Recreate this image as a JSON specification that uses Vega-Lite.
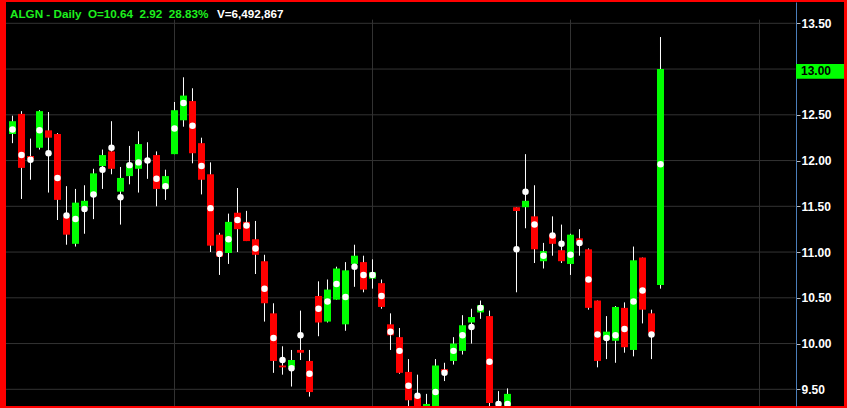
{
  "$schema": "https://vega.github.io/schema/vega-lite/v6.json",
  "width": 838,
  "height": 404,
  "autosize": {"type": "none"},
  "padding": {"left": 6, "top": 2, "right": 3, "bottom": 2},
  "background": "#ff0000",
  "config": {"view": {"fill": "#000000", "stroke": null}, "font": "Liberation Sans"},
  "resolve": {"axis": {"x": "independent", "y": "independent"}},
  "datasets": {
    "ohlc": [
      {"i": 1, "o": 12.29, "h": 12.49, "l": 12.19, "c": 12.43, "m": 12.34},
      {"i": 2, "o": 12.51, "h": 12.54, "l": 11.58, "c": 11.92, "m": 12.06},
      {"i": 3, "o": 12.05, "h": 12.24, "l": 11.79, "c": 12.02, "m": 12.01},
      {"i": 4, "o": 12.14, "h": 12.55, "l": 12.12, "c": 12.54, "m": 12.33},
      {"i": 5, "o": 12.33, "h": 12.53, "l": 11.65, "c": 12.25, "m": 12.08},
      {"i": 6, "o": 12.29, "h": 12.30, "l": 11.35, "c": 11.57, "m": 11.81},
      {"i": 7, "o": 11.38, "h": 11.72, "l": 11.08, "c": 11.19, "m": 11.40},
      {"i": 8, "o": 11.09, "h": 11.69, "l": 11.06, "c": 11.54, "m": 11.36},
      {"i": 9, "o": 11.49, "h": 11.73, "l": 11.20, "c": 11.56, "m": 11.47},
      {"i": 10, "o": 11.61, "h": 11.91, "l": 11.36, "c": 11.86, "m": 11.63},
      {"i": 11, "o": 11.94, "h": 12.12, "l": 11.69, "c": 12.06, "m": 11.90},
      {"i": 12, "o": 12.10, "h": 12.43, "l": 11.85, "c": 11.91, "m": 12.14},
      {"i": 13, "o": 11.66, "h": 11.93, "l": 11.30, "c": 11.81, "m": 11.60},
      {"i": 14, "o": 11.83, "h": 12.16, "l": 11.74, "c": 11.97, "m": 11.95},
      {"i": 15, "o": 11.91, "h": 12.32, "l": 11.65, "c": 12.18, "m": 11.98},
      {"i": 16, "o": 12.00, "h": 12.20, "l": 11.80, "c": 11.99, "m": 12.00},
      {"i": 17, "o": 12.06, "h": 12.10, "l": 11.50, "c": 11.69, "m": 11.80},
      {"i": 18, "o": 11.69, "h": 11.90, "l": 11.57, "c": 11.83, "m": 11.72},
      {"i": 19, "o": 12.07, "h": 12.64, "l": 12.07, "c": 12.55, "m": 12.35},
      {"i": 20, "o": 12.44, "h": 12.91, "l": 12.37, "c": 12.71, "m": 12.63},
      {"i": 21, "o": 12.65, "h": 12.79, "l": 11.97, "c": 12.08, "m": 12.38},
      {"i": 22, "o": 12.19, "h": 12.25, "l": 11.63, "c": 11.79, "m": 11.94},
      {"i": 23, "o": 11.85, "h": 11.98, "l": 11.00, "c": 11.07, "m": 11.48},
      {"i": 24, "o": 11.19, "h": 11.21, "l": 10.75, "c": 10.95, "m": 10.98},
      {"i": 25, "o": 10.99, "h": 11.42, "l": 10.87, "c": 11.33, "m": 11.14},
      {"i": 26, "o": 11.43, "h": 11.70, "l": 11.00, "c": 11.25, "m": 11.35},
      {"i": 27, "o": 11.33, "h": 11.45, "l": 11.12, "c": 11.12, "m": 11.29},
      {"i": 28, "o": 11.14, "h": 11.34, "l": 10.76, "c": 10.97, "m": 11.04},
      {"i": 29, "o": 10.90, "h": 10.97, "l": 10.24, "c": 10.44, "m": 10.60},
      {"i": 30, "o": 10.33, "h": 10.44, "l": 9.68, "c": 9.81, "m": 10.06},
      {"i": 31, "o": 9.76, "h": 9.97, "l": 9.66, "c": 9.74, "m": 9.82},
      {"i": 32, "o": 9.74, "h": 9.93, "l": 9.53, "c": 9.82, "m": 9.73},
      {"i": 33, "o": 9.93, "h": 10.36, "l": 9.82, "c": 9.90, "m": 10.09},
      {"i": 34, "o": 9.81, "h": 9.93, "l": 9.42, "c": 9.47, "m": 9.67},
      {"i": 35, "o": 10.52, "h": 10.68, "l": 10.08, "c": 10.23, "m": 10.38},
      {"i": 36, "o": 10.24, "h": 10.70, "l": 10.23, "c": 10.59, "m": 10.46},
      {"i": 37, "o": 10.48, "h": 10.84, "l": 10.48, "c": 10.82, "m": 10.65},
      {"i": 38, "o": 10.21, "h": 10.89, "l": 10.14, "c": 10.80, "m": 10.51},
      {"i": 39, "o": 10.87, "h": 11.08, "l": 10.62, "c": 10.96, "m": 10.84},
      {"i": 40, "o": 10.89, "h": 10.96, "l": 10.56, "c": 10.59, "m": 10.75},
      {"i": 41, "o": 10.71, "h": 10.92, "l": 10.60, "c": 10.78, "m": 10.75},
      {"i": 42, "o": 10.66, "h": 10.70, "l": 10.38, "c": 10.40, "m": 10.52},
      {"i": 43, "o": 10.21, "h": 10.33, "l": 9.93, "c": 10.09, "m": 10.13},
      {"i": 44, "o": 10.07, "h": 10.17, "l": 9.67, "c": 9.68, "m": 9.92},
      {"i": 45, "o": 9.69, "h": 9.83, "l": 9.25, "c": 9.38, "m": 9.54},
      {"i": 46, "o": 9.42, "h": 9.66, "l": 9.21, "c": 9.25, "m": 9.43},
      {"i": 47, "o": 9.21, "h": 9.45, "l": 9.06, "c": 9.34, "m": 9.25},
      {"i": 48, "o": 9.27, "h": 9.83, "l": 9.12, "c": 9.76, "m": 9.47},
      {"i": 49, "o": 9.72, "h": 9.79, "l": 9.59, "c": 9.69, "m": 9.68},
      {"i": 50, "o": 9.81, "h": 10.07, "l": 9.77, "c": 10.00, "m": 9.92},
      {"i": 51, "o": 9.92, "h": 10.31, "l": 9.88, "c": 10.20, "m": 10.09},
      {"i": 52, "o": 10.23, "h": 10.38, "l": 10.00, "c": 10.29, "m": 10.18},
      {"i": 53, "o": 10.34, "h": 10.47, "l": 10.27, "c": 10.42, "m": 10.39},
      {"i": 54, "o": 10.30, "h": 10.36, "l": 9.23, "c": 9.35, "m": 9.80},
      {"i": 55, "o": 9.34, "h": 9.48, "l": 9.21, "c": 9.34, "m": 9.34},
      {"i": 56, "o": 9.25, "h": 9.51, "l": 9.17, "c": 9.45, "m": 9.34},
      {"i": 57, "o": 11.49, "h": 11.49, "l": 10.56, "c": 11.45, "m": 11.03},
      {"i": 58, "o": 11.49, "h": 12.07, "l": 11.26, "c": 11.56, "m": 11.66},
      {"i": 59, "o": 11.39, "h": 11.73, "l": 10.88, "c": 11.03, "m": 11.30},
      {"i": 60, "o": 10.90, "h": 11.10, "l": 10.82, "c": 11.01, "m": 10.96},
      {"i": 61, "o": 11.19, "h": 11.39, "l": 10.96, "c": 11.09, "m": 11.18},
      {"i": 62, "o": 11.02, "h": 11.30, "l": 10.88, "c": 10.90, "m": 11.09},
      {"i": 63, "o": 10.87, "h": 11.20, "l": 10.75, "c": 11.19, "m": 10.97},
      {"i": 64, "o": 11.15, "h": 11.25, "l": 10.96, "c": 11.12, "m": 11.10},
      {"i": 65, "o": 11.03, "h": 11.04, "l": 10.37, "c": 10.39, "m": 10.70},
      {"i": 66, "o": 10.47, "h": 10.47, "l": 9.74, "c": 9.81, "m": 10.10},
      {"i": 67, "o": 10.04, "h": 10.30, "l": 9.83, "c": 10.13, "m": 10.06},
      {"i": 68, "o": 10.03, "h": 10.41, "l": 9.79, "c": 10.40, "m": 10.09},
      {"i": 69, "o": 10.39, "h": 10.45, "l": 9.90, "c": 9.96, "m": 10.16},
      {"i": 70, "o": 9.93, "h": 11.06, "l": 9.86, "c": 10.91, "m": 10.46},
      {"i": 71, "o": 10.94, "h": 10.94, "l": 10.22, "c": 10.37, "m": 10.58},
      {"i": 72, "o": 10.33, "h": 10.37, "l": 9.83, "c": 10.12, "m": 10.10},
      {"i": 73, "o": 10.64, "h": 13.35, "l": 10.60, "c": 13.00, "m": 11.96}
    ],
    "hgrid": [{"p": 9.5}, {"p": 10.0}, {"p": 10.5}, {"p": 11.0}, {"p": 11.5}, {"p": 12.0}, {"p": 12.5}, {"p": 13.0}, {"p": 13.5}],
    "vgrid": [{"i": 19}, {"i": 41}, {"i": 63}, {"i": 84}]
  },
  "layer": [
    {
      "data": {"name": "vgrid"},
      "mark": {"type": "rule", "color": "#333333", "strokeWidth": 1},
      "encoding": {
        "x": {"field": "i", "type": "quantitative", "scale": {"domain": [0.2778, 93.3889], "nice": false, "zero": false, "padding": 0}, "axis": null},
        "y": {"datum": 13.54, "type": "quantitative", "scale": {"domain": [9.3175, 13.7328], "nice": false, "zero": false, "padding": 0}, "axis": null},
        "y2": {"datum": 9.3175}
      }
    },
    {
      "data": {"name": "hgrid"},
      "mark": {"type": "rule", "color": "#333333", "strokeWidth": 1},
      "encoding": {
        "y": {
          "field": "p", "type": "quantitative",
          "axis": {
            "orient": "right", "offset": -48, "title": null,
            "values": [9.5, 10, 10.5, 11, 11.5, 12, 12.5, 13, 13.5],
            "grid": false,
            "domainColor": "#4a7ebb", "domainWidth": 1,
            "tickColor": "#bbbbbb", "tickSize": 4, "tickWidth": 1,
            "labelColor": "#ffffff", "labelFont": "Liberation Sans", "labelFontSize": 12, "labelFontWeight": "bold",
            "labelPadding": 1, "labelOverlap": false, "labelFlush": false,
            "labelExpr": "datum.value == 13 ? '' : format(datum.value, '.2f')"
          }
        },
        "x": {"datum": 0.2778, "type": "quantitative", "axis": null},
        "x2": {"datum": 88.02}
      }
    },
    {
      "data": {"name": "ohlc"},
      "mark": {"type": "rule", "color": "#ffffff", "strokeWidth": 1, "clip": true},
      "encoding": {
        "x": {"field": "i", "type": "quantitative", "axis": null},
        "y": {"field": "l", "type": "quantitative", "axis": null},
        "y2": {"field": "h"}
      }
    },
    {
      "data": {"name": "ohlc"},
      "mark": {"type": "bar", "size": 7, "clip": true},
      "encoding": {
        "x": {"field": "i", "type": "quantitative", "axis": null},
        "y": {"field": "o", "type": "quantitative", "axis": null},
        "y2": {"field": "c"},
        "color": {"condition": {"test": "datum.c >= datum.o", "value": "#00ff00"}, "value": "#ff0000"}
      }
    },
    {
      "data": {"name": "ohlc"},
      "mark": {"type": "point", "filled": true, "color": "#ffffff", "size": 42, "opacity": 1, "strokeWidth": 0, "clip": true},
      "encoding": {
        "x": {"field": "i", "type": "quantitative", "axis": null},
        "y": {"field": "m", "type": "quantitative", "axis": null}
      }
    },
    {
      "data": {"values": [{"t": "13.00"}]},
      "mark": {"type": "rect", "color": "#00ff00"},
      "encoding": {
        "x": {"datum": 88.06, "type": "quantitative", "axis": null},
        "x2": {"datum": 93.39},
        "y": {"datum": 13.055, "type": "quantitative", "axis": null},
        "y2": {"datum": 12.895}
      }
    },
    {
      "data": {"values": [{"t": "13.00"}]},
      "mark": {"type": "text", "color": "#000000", "font": "Liberation Sans", "fontSize": 12, "fontWeight": "bold", "align": "left", "baseline": "middle"},
      "encoding": {
        "x": {"datum": 88.61, "type": "quantitative", "axis": null},
        "y": {"datum": 12.975, "type": "quantitative", "axis": null},
        "text": {"field": "t"}
      }
    },
    {
      "data": {"values": [{"t": "ALGN - Daily\u00a0\u00a0O=10.64\u00a0\u00a02.92\u00a0\u00a028.83%"}]},
      "mark": {"type": "text", "color": "#1ef01e", "font": "Liberation Sans", "fontSize": 11.7, "fontWeight": "bold", "align": "left", "baseline": "alphabetic"},
      "encoding": {
        "x": {"datum": 0.722, "type": "quantitative", "axis": null},
        "y": {"datum": 13.5525, "type": "quantitative", "axis": null},
        "text": {"field": "t"}
      }
    },
    {
      "data": {"values": [{"t": "V=6,492,867"}]},
      "mark": {"type": "text", "color": "#ffffff", "font": "Liberation Sans", "fontSize": 11.7, "fontWeight": "bold", "align": "left", "baseline": "alphabetic"},
      "encoding": {
        "x": {"datum": 23.72, "type": "quantitative", "axis": null},
        "y": {"datum": 13.5525, "type": "quantitative", "axis": null},
        "text": {"field": "t"}
      }
    }
  ]
}
